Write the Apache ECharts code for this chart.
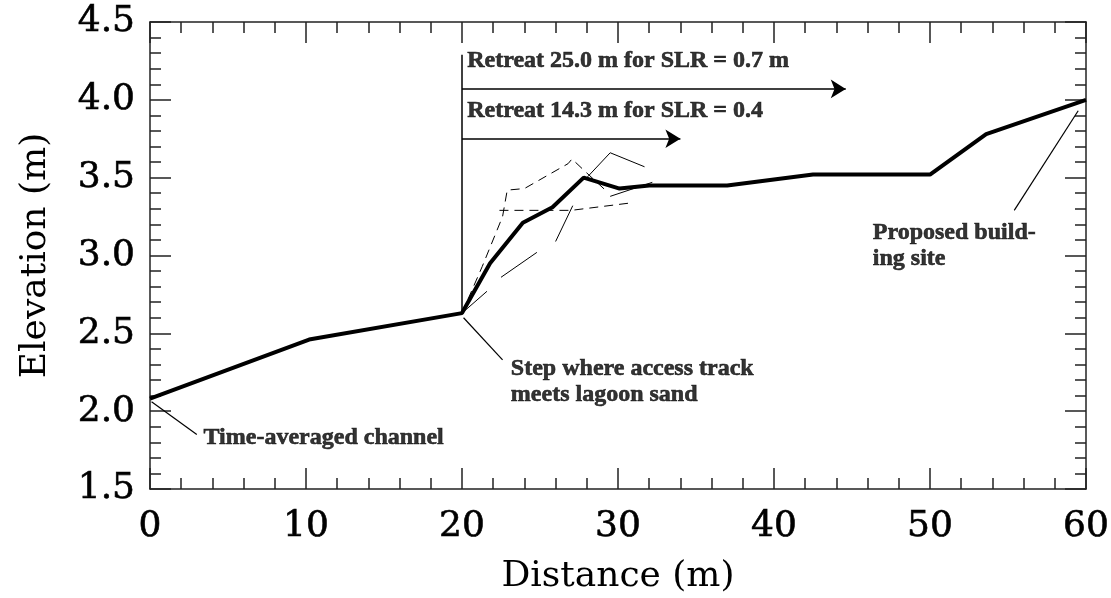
<!DOCTYPE html>
<html>
<head>
<meta charset="utf-8">
<script src="https://cdn.jsdelivr.net/npm/echarts@6/dist/echarts.min.js"></script>
<style>html,body{margin:0;padding:0;background:#fff}#c{width:1111px;height:598px}</style>
</head>
<body>
<div id="c"></div>
<script>
// ---- data ----
const mainProfile = [[0,2.08],[10.2,2.46],[20,2.63],[21.8,2.95],[23.9,3.21],[25.8,3.31],[27.8,3.50],[30.1,3.43],[32,3.45],[37,3.45],[42.5,3.52],[50,3.52],[53.6,3.78],[60,4.0]];
const dashedProfile1 = [[20,2.63],[21.3,2.93],[22.6,3.25],[22.9,3.42],[24.0,3.43],[26.8,3.59],[27.05,3.62],[28.0,3.53],[29.3,3.41]];
const dashedProfile2 = [[22.4,3.29],[27.0,3.29],[31.0,3.34]];
const thinProfile1 = [[28.0,3.50],[29.5,3.66],[31.7,3.57]];
const thinProfile2 = [[26.0,3.09],[27.1,3.32]];
const thinProfile3 = [[29.5,3.38],[32.2,3.47]];
const thinProfile4 = [[22.5,2.86],[24.8,3.02]];
const thinProfile5 = [[20.0,2.63],[21.6,2.77]];
const stepLine = [[20,2.63],[20,4.29]];
const retreatArrows = [{y:4.07, from:20, to:44.6}, {y:3.75, from:20, to:34.0}];
const retreatTexts = [{pos:[20.3,4.25], text:'Retreat 25.0 m for SLR = 0.7 m'}, {pos:[20.3,3.93], text:'Retreat 14.3 m for SLR = 0.4'}];
const noteTexts = [
  {pos:[3.4,1.83], text:'Time-averaged channel'},
  {pos:[23.1,2.19], text:'Step where access track\nmeets lagoon sand'},
  {pos:[46.3,3.06], text:'Proposed build-\ning site'}
];
const leaderLines = [
  [[0.1,2.06],[3.0,1.85]],
  [[20.1,2.60],[22.6,2.33]],
  [[59.5,3.93],[55.4,3.29]]
];

// ---- chart ----
const chart = echarts.init(document.getElementById('c'), null, {renderer:'canvas'});
const serif = 'DejaVu Serif';
const tnr = 'Liberation Serif';
const axisCol = '#222';
function axisCommon(extra){
  return Object.assign({
    axisLine:{show:true, onZero:false, lineStyle:{color:axisCol, width:1.5}},
    axisTick:{show:true, inside:true, length:21, lineStyle:{color:axisCol, width:1.5}},
    minorTick:{show:true, splitNumber:5, length:11, lineStyle:{color:axisCol, width:1.5}},
    splitLine:{show:false}
  }, extra);
}
const series = [];
function lineS(data, width, type){
  series.push({type:'line', data:data, showSymbol:false, symbol:'none', silent:true, animation:false,
    lineStyle:{color:'#000', width:width, type:type||'solid'}, z:3});
}
lineS(mainProfile, 4);
lineS(dashedProfile1, 1, [9,6]);
lineS(dashedProfile2, 1, [9,6]);
[thinProfile1, thinProfile2, thinProfile3, thinProfile4, thinProfile5].forEach(p=>lineS(p,1));
lineS(stepLine, 1.5);
leaderLines.forEach(p=>lineS(p,1.2));
series.push({type:'line', data:[], silent:true, animation:false,
  markLine:{silent:true, animation:false, symbol:['none','arrow'], symbolSize:[14,15],
    lineStyle:{color:'#000', width:1.5, type:'solid'}, label:{show:false},
    data: retreatArrows.map(a=>[{coord:[a.from,a.y]},{coord:[a.to,a.y]}])}
});
series.push({type:'scatter', symbolSize:1, itemStyle:{color:'rgba(0,0,0,0)'}, silent:true, animation:false, z:5,
  data: retreatTexts.concat(noteTexts).map(t=>({value:t.pos, name:t.text})),
  label:{show:true, position:'right', distance:0, align:'left', verticalAlign:'middle', formatter:p=>p.name,
    fontFamily:tnr, fontWeight:'bold', fontSize:24, lineHeight:26, color:'#000',
    textBorderColor:'#000', textBorderWidth:0.6}
});
const tickFont = {fontFamily:serif, fontSize:36, color:'#000', textBorderColor:'#000', textBorderWidth:0.6};

chart.setOption({
  animation:false,
  backgroundColor:'#fff',
  grid:{left:150, right:25, top:22, bottom:109, containLabel:false, outerBoundsMode:'none'},
  xAxis:[
    axisCommon({type:'value', min:0, max:60, interval:10, position:'bottom',
      name:'Distance (m)', nameLocation:'middle', nameGap:70,
      nameTextStyle:{fontFamily:serif, fontSize:36, color:'#000'},
      axisLabel:Object.assign({margin:20}, tickFont)}),
    axisCommon({type:'value', min:0, max:60, interval:10, position:'top', axisLabel:{show:false}})
  ],
  yAxis:[
    axisCommon({type:'value', min:1.5, max:4.5, interval:0.5, position:'left',
      name:'Elevation (m)', nameLocation:'middle', nameGap:96,
      nameTextStyle:{fontFamily:serif, fontSize:36, color:'#000'},
      axisLabel:Object.assign({margin:15, padding:[6,0,0,0], formatter:v=>v.toFixed(1)}, tickFont)}),
    axisCommon({type:'value', min:1.5, max:4.5, interval:0.5, position:'right', axisLabel:{show:false}})
  ],
  series:series
});
</script>
</body>
</html>
